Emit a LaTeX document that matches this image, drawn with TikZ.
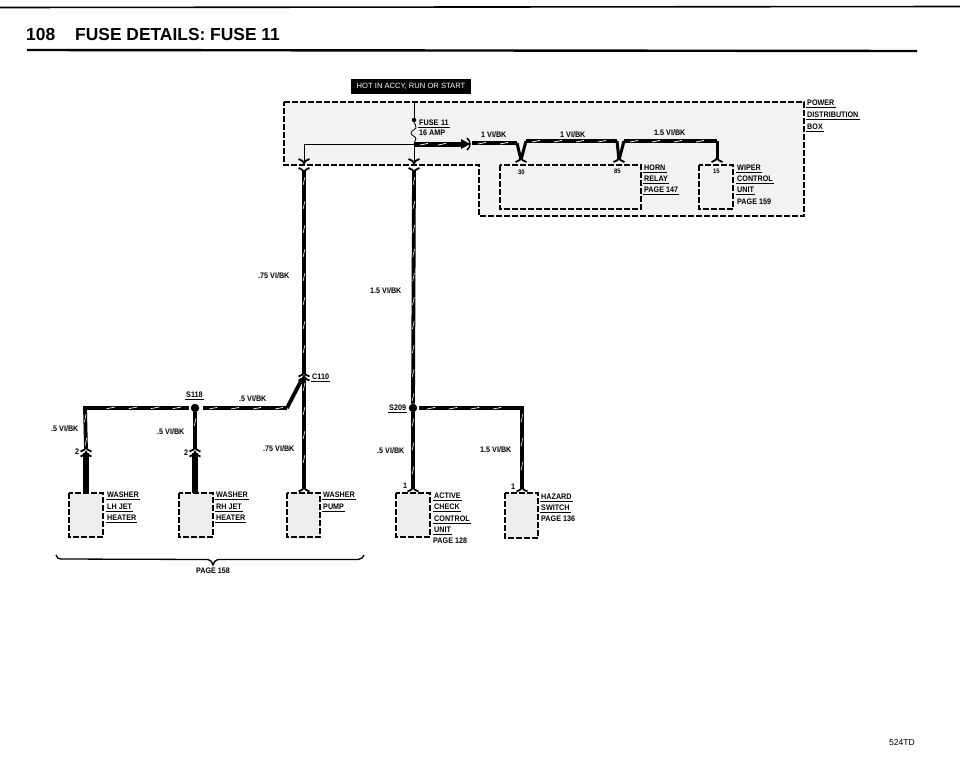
\documentclass[tikz,border=0pt]{standalone}
\usepackage{fontspec}
\setmainfont{Liberation Sans}
\newfontfamily\lblfont[FakeStretch=0.9]{Liberation Sans Bold}
\usetikzlibrary{decorations.markings}
\tikzset{
  x=1pt,y=-1pt,
  dbox/.style={draw=black,line width=1.6,dash pattern=on 6pt off 2pt},
  stip/.style={dbox,fill=black!7},
  lbl/.style={font=\lblfont\fontsize{8}{8}\selectfont,inner xsep=1pt,inner ysep=1.5pt,text height=5.8pt,text depth=0pt,anchor=west,black},
  ul/.style={lbl,append after command={(\tikzlastnode.south west) edge[draw=black,line width=1.1] (\tikzlastnode.south east)}},
  hair/.style={draw=black,line width=.8},
  plainw/.style={draw=black,line width=6},
  wirev/.style={draw=black,line width=3.8,postaction={decorate},decoration={markings,mark=between positions 10pt and -6pt step 24pt with {\draw[white,line width=.55] (-4,-.9) -- (4,.9);}}},
  wireh/.style={draw=black,line width=3.8,postaction={decorate},decoration={markings,mark=between positions 10pt and -6pt step 22pt with {\draw[white,line width=.7] (-4,1) -- (4,-.6);}}},
  wiret/.style={draw=black,line width=5,postaction={decorate},decoration={markings,mark=between positions 10pt and -8pt step 18pt with {\draw[white,line width=.7] (-4,1) -- (4,-.6);}}},
  chev/.pic={\draw[line width=1.8,black] (-5.5,2.5) .. controls (-2,1) and (0,0) .. (0,-2) .. controls (0,0) and (2,1) .. (5.5,2.5);},
  junc/.style={circle,fill=black,inner sep=0,minimum size=8.5pt},
  pt/.style={inner sep=0,minimum size=0}
}
\begin{document}
\begin{tikzpicture}
\useasboundingbox (0,0) rectangle (960,782);
\fill[white] (0,0) rectangle (960,782);
% header
\coordinate (ruleTL) at (0,7.5); \coordinate (ruleTR) at (960,6.5);
\draw[line width=1.6] (ruleTL) -- (ruleTR);
\node[font=\bfseries\fontsize{17.4}{17.4}\selectfont,anchor=west,inner sep=0] (title) at (26,34.5) {108\hspace{20pt}FUSE DETAILS: FUSE 11};
\coordinate (ruleBL) at (27,50); \coordinate (ruleBR) at (917,51);
\draw[line width=2.4] (ruleBL) -- (ruleBR);
\node[font=\fontsize{8.6}{8.6}\selectfont,anchor=east,inner sep=0] (code) at (915,743) {524TD};
% power distribution box
\path[fill=black!5] (284,102) -- (804,102) -- (804,216) -- (479,216) -- (479,165) -- (284,165) -- cycle;
\node[fill=black,text=white,font=\fontsize{7.6}{7.6}\selectfont,minimum width=120pt,minimum height=15pt,inner sep=0] (hot) at (411,86.5) {HOT IN ACCY, RUN OR START};
\draw[dbox] (284,102) -- (804,102) -- (804,216) -- (479,216) -- (479,165) -- (284,165) -- cycle;
\draw[dbox] (500,165) rectangle (641,209);
\draw[dbox] (699,165) rectangle (733,209);
\node[ul] (pw) at (806,103) {POWER};
\node[ul] (di) at (806,115) {DISTRIBUTION};
\node[ul] (bx) at (806,126.5) {BOX};
\node[ul] (ho) at (643,168) {HORN};
\node[ul] (re) at (643,179) {RELAY};
\node[ul] (p1) at (643,190) {PAGE 147};
\node[ul] (wi) at (736,168) {WIPER};
\node[ul] (cn) at (736,179) {CONTROL};
\node[ul] (un) at (736,190) {UNIT};
\node[lbl] (p2) at (736,202) {PAGE 159};
\node[lbl,font=\lblfont\fontsize{6.5}{6.5}\selectfont] (n30) at (517,172) {30};
\node[lbl,font=\lblfont\fontsize{6.5}{6.5}\selectfont] (n85) at (613,171) {85};
\node[lbl,font=\lblfont\fontsize{6.5}{6.5}\selectfont] (n15) at (712,171) {15};
\node[ul,text width=30pt] (fu) at (418,123) {FUSE 11};
\node[lbl] (am) at (418,133) {16 AMP};
\node[lbl] (w1) at (480,135) {1 VI/BK};
\node[lbl] (w2) at (559,135) {1 VI/BK};
\node[lbl] (w3) at (653,133) {1.5 VI/BK};
% fuse
\node[circle,fill=black,inner sep=0,minimum size=4.5pt] (fdot) at (414,120) {};
\coordinate (ftop) at (414,102);
\coordinate (fj) at (414,144);
\coordinate (fl) at (304,144);
\coordinate (sockA) at (304,165);
\coordinate (sockB) at (414,165);
\draw[hair] (ftop) -- (fdot);
\draw[hair] (fdot) .. controls (414,124) and (417,125) .. (416,128) .. controls (415,131) and (411,130) .. (411,133) .. controls (411,136) and (416,136) .. (416,139) .. controls (416,141) and (414,141) .. (fj);
\draw[hair] (fj) -- (fl) -- (sockA);
\draw[hair] (fj) -- (sockB);
\pic[yscale=-1] at (304,161.5) {chev};
\pic[yscale=-1] at (304,170.5) {chev};
\pic[yscale=-1] at (414,161.5) {chev};
\pic[yscale=-1] at (414,170.5) {chev};
% bus
\coordinate (tip) at (465,144);
\coordinate (b1) at (472,143);
\coordinate (v1a) at (517,143);
\coordinate (v1) at (521,160);
\coordinate (v1b) at (526,141);
\coordinate (v2a) at (617,141);
\coordinate (v2) at (619,160);
\coordinate (v2b) at (624,141);
\coordinate (b3) at (717,141);
\coordinate (v3) at (717,160);
\draw[wiret] (fj) -- (tip);
\fill (461,139) -- (470,144) -- (461,149) -- cycle;
\draw[line width=1.5] (467,138) .. controls (471,141) and (471,147) .. (467,150);
\draw[wireh] (b1) -- (v1a);
\draw[draw=black,line width=3] (v1a) -- (v1);
\draw[draw=black,line width=3] (v1b) -- (v1);
\draw[wireh] (v1b) -- (v2a);
\draw[draw=black,line width=3] (v2a) -- (v2);
\draw[draw=black,line width=3] (v2b) -- (v2);
\draw[wireh] (v2b) -- (b3);
\draw[draw=black,line width=3] (b3) -- (v3);
\pic at (521,159.5) {chev}; \pic at (619,159.5) {chev}; \pic at (717,159.5) {chev};
% main verticals
\coordinate (a0) at (304,171);
\coordinate (c110) at (304,374);
\coordinate (a1) at (304,377);
\coordinate (a2) at (304,488);
\coordinate (m0) at (414,171);
\node[junc] (s209) at (413,408) {};
\coordinate (m2) at (413,488);
\coordinate (hz1) at (522,408);
\coordinate (hz2) at (522,488);
\draw[wirev] (a0) -- (c110);
\pic at (304,374) {chev};
\pic at (304,378) {chev};
\draw[wirev] (a1) -- (a2);
\pic at (304,489) {chev};
\draw[wirev] (m0) -- (s209);
\draw[wirev] (s209) -- (m2);
\pic at (413,489) {chev};
\draw[wireh,line cap=rect] (421,408) -- (hz1);
\draw[wirev] (hz1) -- (hz2);
\pic at (522,489) {chev};
% S118 tree
\node[junc] (s118) at (195,408) {};
\coordinate (l0) at (187,408);
\coordinate (l1) at (85,408);
\coordinate (l2) at (86,449);
\coordinate (r0) at (203,408);
\coordinate (r1) at (287,408);
\coordinate (r2) at (302,379);
\coordinate (ml) at (195,449);
\draw[wireh,line cap=rect] (l0) -- (l1);
\draw[wirev] (l1) -- (l2);
\draw[wirev] (s118) -- (ml);
\draw[wireh] (r0) -- (r1);
\draw[draw=black,line width=3.8] (r1) -- (r2);
\pic at (86,449) {chev};
\pic at (86,454) {chev};
\pic at (195,449) {chev};
\pic at (195,454) {chev};
\draw[plainw] (86,453) -- (86,493);
\draw[plainw] (195,453) -- (195,493);
% boxes
\draw[stip] (69,493) rectangle (103,537);
\draw[stip] (179,493) rectangle (213,537);
\draw[stip] (287,493) rectangle (320,537);
\draw[stip] (396,493) rectangle (430,537);
\draw[stip] (505,493) rectangle (538,538);
% labels
\node[lbl] (l75a) at (257,276) {.75 VI/BK};
\node[lbl] (l15a) at (369,291) {1.5 VI/BK};
\node[ul] (ls118) at (185,395) {S118};
\node[lbl] (l5a) at (238,399) {.5 VI/BK};
\node[lbl] (l5b) at (50,429) {.5 VI/BK};
\node[lbl] (l5c) at (156,432) {.5 VI/BK};
\node[lbl] (l75b) at (262,449) {.75 VI/BK};
\node[lbl] (l2a) at (74,452) {2};
\node[lbl] (l2b) at (183,453) {2};
\node[ul] (lc110) at (311,377) {C110};
\node[ul] (ls209) at (388,408) {S209};
\node[lbl] (l5d) at (376,451) {.5 VI/BK};
\node[lbl] (l15b) at (479,450) {1.5 VI/BK};
\node[lbl] (l1a) at (402,486) {1};
\node[lbl] (l1b) at (510,487) {1};
\node[ul] (t1) at (106,495) {WASHER};
\node[ul] (t2) at (106,507) {LH JET};
\node[ul] (t3) at (106,518) {HEATER};
\node[ul] (t4) at (215,495) {WASHER};
\node[ul] (t5) at (215,507) {RH JET};
\node[ul] (t6) at (215,518) {HEATER};
\node[ul] (t7) at (322,495) {WASHER};
\node[ul] (t8) at (322,507) {PUMP};
\node[ul] (t9) at (433,496) {ACTIVE};
\node[ul] (t10) at (433,507) {CHECK};
\node[ul] (t11) at (433,519) {CONTROL};
\node[ul] (t12) at (433,530) {UNIT};
\node[lbl] (t13) at (432,541) {PAGE 128};
\node[ul] (t14) at (540,497) {HAZARD};
\node[ul] (t15) at (540,508) {SWITCH};
\node[lbl] (t16) at (540,519) {PAGE 136};
% brace
\coordinate (brL) at (56,555);
\coordinate (brM) at (213,565);
\coordinate (brR) at (364,555);
\draw[line width=1.3] (brL) .. controls (57,558) and (58,559) .. (62,559) -- (208,559.5) .. controls (211,560) and (212,562) .. (brM) .. controls (214,562) and (215,560) .. (218,559.5) -- (358,559.5) .. controls (361,559) and (363,558) .. (brR);
\node[lbl,anchor=center] (pg) at (213,571) {PAGE 158};
\end{tikzpicture}
\end{document}
